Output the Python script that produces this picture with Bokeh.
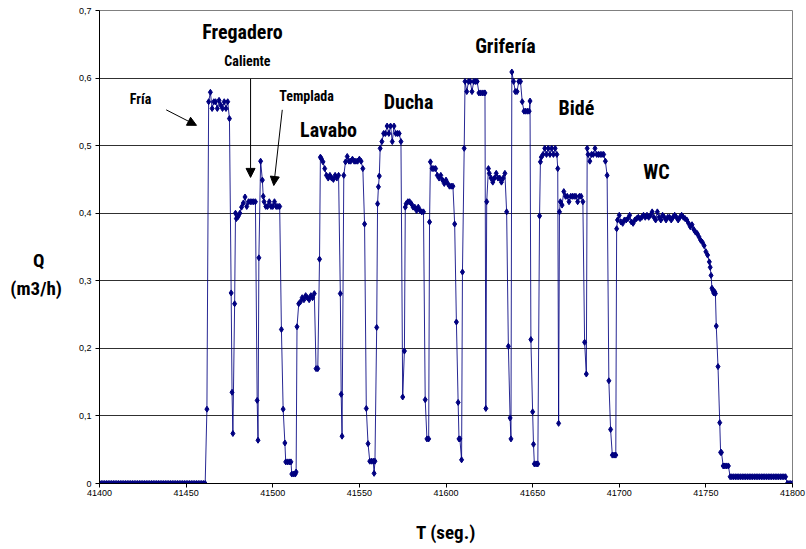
from bokeh.plotting import figure
from bokeh.models import FixedTicker, Range1d, Label, Arrow, NormalHead
from bokeh.embed import file_html
from bokeh.resources import INLINE

# Caudal medido (m3/h) frente al tiempo (s), por tramos de uso

t_reposo = list(range(41400, 41462))
q_reposo = [0, 0, 0, 0, 0, 0, 0, 0, 0, 0, 0, 0, 0, 0, 0, 0, 0, 0, 0, 0,
            0, 0, 0, 0, 0, 0, 0, 0, 0, 0, 0, 0, 0, 0, 0, 0, 0, 0, 0, 0,
            0, 0, 0, 0, 0, 0, 0, 0, 0, 0, 0, 0, 0, 0, 0, 0, 0, 0, 0, 0,
            0, 0]

t_fria = [41462, 41463, 41464, 41465, 41466, 41467, 41468, 41469, 41470, 41471,
          41472, 41473, 41474, 41475, 41476, 41476.5, 41477, 41478]
q_fria = [0.110, 0.565, 0.579, 0.555, 0.565, 0.565, 0.555, 0.567, 0.560, 0.555,
          0.565, 0.555, 0.565, 0.540, 0.282, 0.135, 0.074, 0.266]

t_caliente = [41478.5, 41479, 41480, 41481, 41482, 41483, 41484, 41485, 41486, 41487,
              41488, 41489, 41490, 41491, 41491.5, 41492]
q_caliente = [0.400, 0.392, 0.395, 0.400, 0.409, 0.415, 0.424, 0.410, 0.417, 0.417,
              0.417, 0.417, 0.417, 0.123, 0.064, 0.334]

t_templada = [41493, 41494, 41494.5, 41495, 41496, 41497, 41498, 41499, 41500, 41501,
              41502, 41503, 41504, 41505, 41506, 41507, 41507.5, 41508.5, 41509.5, 41510.5,
              41511, 41512, 41513, 41513.5]
q_templada = [0.477, 0.449, 0.425, 0.417, 0.410, 0.410, 0.417, 0.410, 0.410, 0.417,
              0.410, 0.410, 0.410, 0.228, 0.110, 0.060, 0.032, 0.032, 0.032, 0.032,
              0.014, 0.014, 0.014, 0.017]

t_lavabo = [41514, 41515, 41516, 41517, 41518, 41519, 41520, 41521, 41522, 41523,
            41524, 41525, 41526, 41527, 41527.5, 41528, 41529, 41530, 41531, 41532,
            41533, 41534, 41535, 41536, 41537, 41538, 41539, 41539.5, 41540, 41541,
            41542, 41543, 41544, 41545, 41546, 41547, 41548, 41549, 41550, 41551,
            41552, 41553, 41554, 41555, 41556, 41557, 41558, 41558.5, 41559]
q_lavabo = [0.232, 0.266, 0.269, 0.275, 0.272, 0.278, 0.275, 0.272, 0.278, 0.275,
            0.281, 0.170, 0.170, 0.332, 0.483, 0.481, 0.476, 0.466, 0.456, 0.452,
            0.456, 0.452, 0.450, 0.456, 0.452, 0.456, 0.281, 0.132, 0.070, 0.456,
            0.476, 0.484, 0.477, 0.477, 0.480, 0.477, 0.477, 0.477, 0.480, 0.477,
            0.466, 0.384, 0.111, 0.059, 0.033, 0.033, 0.033, 0.015, 0.033]

t_ducha = [41560, 41560.5, 41561, 41561.5, 41562, 41563, 41564, 41565, 41566, 41567,
           41568, 41569, 41570, 41571, 41572, 41573, 41574, 41575, 41576, 41576.5,
           41577, 41578, 41579, 41580, 41581, 41582, 41583, 41584, 41585, 41586,
           41587, 41588, 41589, 41590]
q_ducha = [0.231, 0.414, 0.439, 0.455, 0.496, 0.506, 0.518, 0.518, 0.529, 0.518,
           0.529, 0.506, 0.529, 0.518, 0.518, 0.518, 0.506, 0.128, 0.196, 0.409,
           0.414, 0.417, 0.417, 0.414, 0.409, 0.409, 0.404, 0.409, 0.404, 0.402,
           0.402, 0.124, 0.066, 0.066]

t_lavado = [41590.5, 41591, 41592, 41593, 41594, 41595, 41596, 41597, 41598, 41599,
            41600, 41601, 41602, 41603, 41604, 41605, 41606, 41607, 41607.5, 41608,
            41609, 41609.5, 41610.5]
q_lavado = [0.387, 0.476, 0.466, 0.466, 0.466, 0.456, 0.452, 0.456, 0.449, 0.444,
            0.449, 0.444, 0.440, 0.440, 0.440, 0.384, 0.239, 0.120, 0.066, 0.066,
            0.035, 0.313, 0.496]

t_griferia = [41611, 41612, 41613, 41614, 41615, 41616, 41617, 41618, 41619, 41620,
              41621, 41622, 41622.5, 41623, 41623.5, 41624.5, 41625, 41626, 41627, 41628,
              41629, 41630, 41631, 41632, 41633, 41634, 41635, 41636, 41637, 41637.5,
              41638, 41639, 41640, 41641, 41642, 41643, 41644, 41645, 41646, 41647,
              41648, 41648.5, 41649, 41650, 41650.5, 41651, 41652, 41653]
q_griferia = [0.595, 0.580, 0.595, 0.595, 0.580, 0.595, 0.595, 0.595, 0.578, 0.578,
              0.578, 0.578, 0.578, 0.111, 0.417, 0.466, 0.459, 0.452, 0.446, 0.452,
              0.459, 0.452, 0.452, 0.446, 0.452, 0.459, 0.402, 0.203, 0.097, 0.066,
              0.609, 0.595, 0.580, 0.580, 0.595, 0.595, 0.565, 0.551, 0.551, 0.551,
              0.551, 0.566, 0.213, 0.106, 0.058, 0.029, 0.029, 0.029]

t_bide = [41654, 41654.5, 41655, 41656, 41657, 41658, 41659, 41660, 41661, 41662,
          41663, 41664, 41664.5, 41665, 41665.5, 41666, 41667, 41668, 41669, 41670,
          41671, 41672, 41673, 41674, 41675, 41676, 41677, 41678, 41679, 41680,
          41681, 41681.5, 41682, 41683, 41684, 41685, 41686, 41687, 41688, 41689,
          41690, 41691, 41692, 41693, 41694, 41695, 41696, 41697, 41698]
q_bide = [0.396, 0.476, 0.483, 0.487, 0.496, 0.487, 0.496, 0.487, 0.496, 0.487,
          0.496, 0.487, 0.466, 0.089, 0.402, 0.417, 0.412, 0.432, 0.425, 0.425,
          0.417, 0.425, 0.425, 0.425, 0.425, 0.417, 0.425, 0.425, 0.417, 0.209,
          0.162, 0.496, 0.487, 0.477, 0.487, 0.487, 0.496, 0.487, 0.487, 0.487,
          0.487, 0.487, 0.477, 0.456, 0.152, 0.080, 0.042, 0.042, 0.042]

t_wc = [41698.5, 41699, 41700, 41701, 41702, 41703, 41704, 41705, 41706, 41707,
        41708, 41709, 41710, 41711, 41712, 41713, 41714, 41715, 41716, 41717,
        41718, 41719, 41720, 41721, 41722, 41723, 41724, 41725, 41726, 41727,
        41728, 41729, 41730, 41731, 41732, 41733, 41734, 41735, 41736, 41737,
        41738, 41739, 41740, 41741, 41742, 41743, 41744, 41745, 41746, 41747,
        41748, 41749, 41750, 41751, 41752, 41752.5, 41753, 41753.5, 41754, 41754.5,
        41755, 41755.5, 41756, 41757, 41758, 41758.5, 41759, 41760, 41761, 41762,
        41763]
q_wc = [0.377, 0.390, 0.397, 0.387, 0.385, 0.390, 0.390, 0.392, 0.397, 0.387,
        0.385, 0.390, 0.392, 0.394, 0.392, 0.394, 0.397, 0.394, 0.397, 0.394,
        0.397, 0.402, 0.394, 0.390, 0.402, 0.394, 0.390, 0.397, 0.394, 0.390,
        0.394, 0.394, 0.390, 0.394, 0.397, 0.394, 0.390, 0.394, 0.397, 0.394,
        0.392, 0.390, 0.385, 0.380, 0.383, 0.376, 0.372, 0.370, 0.365, 0.360,
        0.357, 0.352, 0.343, 0.338, 0.328, 0.320, 0.308, 0.289, 0.286, 0.282,
        0.284, 0.281, 0.233, 0.173, 0.090, 0.046, 0.046, 0.026, 0.026, 0.026,
        0.026]

t_final = list(range(41764, 41801))
q_final = [0.01, 0.01, 0.01, 0.01, 0.01, 0.01, 0.01, 0.01, 0.01, 0.01,
           0.01, 0.01, 0.01, 0.01, 0.01, 0.01, 0.01, 0.01, 0.01, 0.01,
           0.01, 0.01, 0.01, 0.01, 0.01, 0.01, 0.01, 0.01, 0.01, 0.01,
           0.01, 0.01, 0.01, 0, 0, 0, 0]

y_ticks = [0, 0.1, 0.2, 0.3, 0.4, 0.5, 0.6, 0.7]
y_tick_labels = ["0", "0,1", "0,2", "0,3", "0,4", "0,5", "0,6", "0,7"]
x_ticks = [41400, 41450, 41500, 41550, 41600, 41650, 41700, 41750, 41800]

t = (t_reposo + t_fria + t_caliente + t_templada + t_lavabo + t_ducha + t_lavado
     + t_griferia + t_bide + t_wc + t_final)
q = (q_reposo + q_fria + q_caliente + q_templada + q_lavabo + q_ducha + q_lavado
     + q_griferia + q_bide + q_wc + q_final)

COND = "Roboto Condensed"
SMALL = "Liberation Sans"
SERIES = "#000080"

p = figure(frame_width=693, frame_height=473, output_backend="svg",
           toolbar_location=None, x_range=Range1d(41400, 41800),
           y_range=Range1d(0, 0.7), min_border_left=99, min_border_right=14,
           min_border_top=10, min_border_bottom=66)
p.background_fill_color = "white"
p.border_fill_color = "white"
p.outline_line_color = "#808080"

p.xgrid.visible = False
p.ygrid.ticker = FixedTicker(ticks=y_ticks)
p.ygrid.grid_line_color = "#303030"
p.ygrid.grid_line_width = 1

p.yaxis.ticker = FixedTicker(ticks=y_ticks)
p.yaxis.major_label_overrides = dict(zip(y_ticks, y_tick_labels))
p.xaxis.ticker = FixedTicker(ticks=x_ticks)
for ax in (p.xaxis, p.yaxis):
    ax.axis_line_color = "black"
    ax.major_tick_line_color = "black"
    ax.major_tick_out = 4
    ax.major_tick_in = 0
    ax.minor_tick_line_color = None
    ax.major_label_text_font = SMALL
    ax.major_label_text_font_size = "9px"
    ax.major_label_text_color = "black"
    ax.axis_label_text_font = COND
    ax.axis_label_text_font_style = "bold"
    ax.axis_label_text_font_size = "19px"
    ax.axis_label_text_color = "black"
p.xaxis.major_label_standoff = 2
p.yaxis.major_label_standoff = 4

p.xaxis.axis_label = "T (seg.)"
p.xaxis.axis_label_standoff = 22
# non-breaking spaces keep the short first line centred over the unit
p.yaxis.axis_label = "\n\nQ\u00a0\u00a0\u00a0\u00a0\n(m3/h)"
p.yaxis.axis_label_standoff = 14
p.yaxis.axis_label_text_align = "center"
p.yaxis.axis_label_text_line_height = 1.2
yax = p.yaxis[0]
if "axis_label_orientation" in yax.properties():
    yax.axis_label_orientation = "horizontal"

p.line(t, q, line_color=SERIES, line_width=1, line_alpha=0.85)
p.scatter(t, q, marker="diamond", size=6, fill_color=SERIES, line_color=SERIES)

# Etiquetas de los aparatos
notas = [
    ("Fregadero", 41482.5, 0.668, "20px"),
    ("Caliente", 41485.4, 0.625, "14px"),
    ("Fría", 41423.7, 0.569, "14px"),
    ("Templada", 41519.5, 0.573, "14px"),
    ("Lavabo", 41532.2, 0.523, "20px"),
    ("Ducha", 41578.4, 0.564, "20px"),
    ("Grifería", 41634.3, 0.647, "20px"),
    ("Bidé", 41675.3, 0.556, "20px"),
    ("WC", 41721.5, 0.461, "20px"),
]
for texto, xx, yy, fs in notas:
    p.add_layout(Label(x=xx, y=yy, text=texto, text_align="center",
                       text_baseline="middle", text_font=COND,
                       text_font_style="bold", text_font_size=fs,
                       text_color="black"))

flechas = [
    (41438.5, 0.553, 41456.0, 0.530),
    (41487.2, 0.599, 41487.2, 0.453),
    (41505.5, 0.553, 41500.6, 0.441),
]
for x0, y0, x1, y1 in flechas:
    p.add_layout(Arrow(end=NormalHead(size=9, fill_color="black", line_color="black"),
                       x_start=x0, y_start=y0, x_end=x1, y_end=y1,
                       line_color="black", line_width=1))

open("out.html", "w").write(file_html(p, INLINE))
